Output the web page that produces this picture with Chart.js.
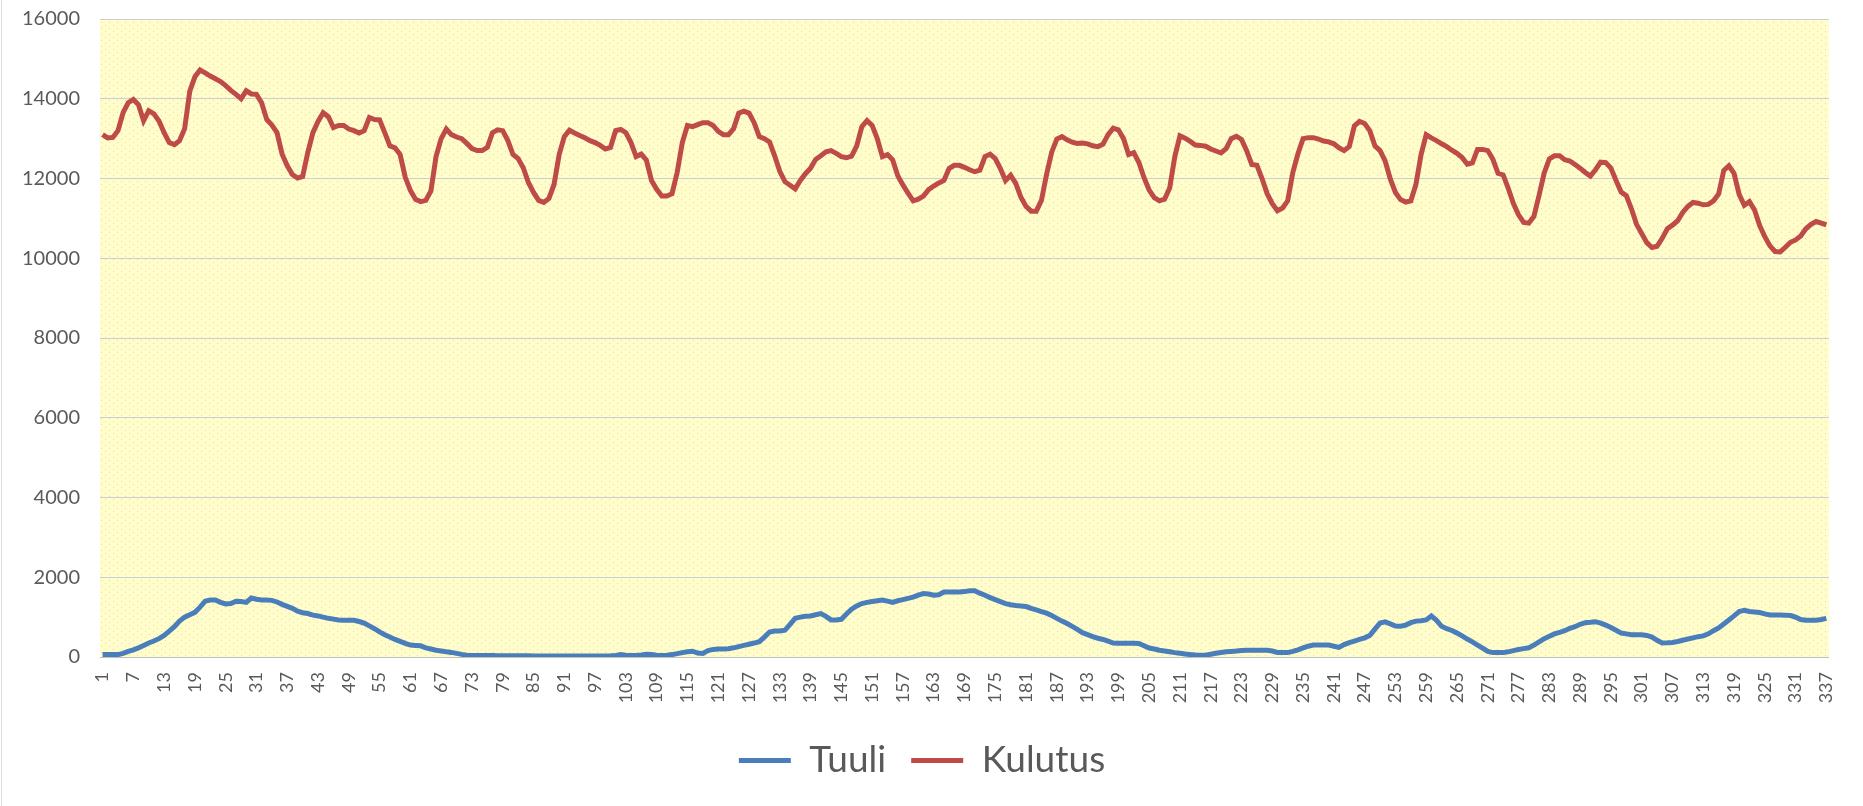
<!DOCTYPE html>
<html lang="fi">
<head>
  <meta charset="UTF-8">
  <title>Tuuli ja Kulutus</title>
  <style>
    html, body { margin: 0; padding: 0; background: #ffffff; }
    #chartBox { width: 1863px; height: 806px; }
  </style>
</head>
<body>
<div id="chartBox">
  <canvas id="windChart" width="1863" height="806"></canvas>
</div>

<script src="https://cdn.jsdelivr.net/npm/chart.js@4.4.1/dist/chart.umd.min.js"></script>
<script>
  // hours 1..337, every 6th one gets a label
  const hours = Array.from({ length: 337 }, (_, i) => String(i + 1));
  const labelEvery = 6;
  const yTicks = [0, 2000, 4000, 6000, 8000, 10000, 12000, 14000, 16000];

  const tuuli = [
    60, 60, 60, 60, 90, 140, 180, 230, 290, 350,
    400, 460, 540, 650, 760, 900, 1000, 1060, 1120, 1250,
    1400, 1430, 1430, 1370, 1330, 1340, 1400, 1390, 1370, 1480,
    1450, 1430, 1430, 1420, 1380, 1320, 1270, 1220, 1150, 1110,
    1090, 1050, 1030, 1000, 970, 950, 930, 920, 920, 920,
    890, 850, 780, 710, 630, 560, 500, 440, 390, 340,
    300, 290, 280, 230, 200, 170, 150, 130, 115, 90,
    65, 45, 40, 35, 35, 35, 35, 30, 30, 30,
    30, 30, 30, 30, 25, 25, 25, 25, 25, 25,
    25, 25, 25, 25, 25, 25, 25, 25, 25, 30,
    40, 60, 45, 40, 40, 50, 70, 60, 45, 40,
    45, 60, 85, 110, 130, 145, 100, 90, 160, 190,
    200, 200, 205, 230, 260, 290, 320, 350, 385, 500,
    625, 650, 650, 670, 820, 970, 1000, 1020, 1030, 1060,
    1090, 1020, 930, 930, 945, 1080, 1200, 1280, 1340, 1370,
    1390, 1410, 1430, 1400, 1370, 1410, 1440, 1470, 1500, 1550,
    1590, 1580, 1550, 1560, 1630, 1630, 1630, 1630, 1640, 1660,
    1660, 1600, 1550, 1490, 1440, 1390, 1340, 1310, 1290, 1280,
    1265, 1220, 1180, 1140, 1100, 1040, 970, 900, 840, 770,
    690, 610, 560, 510, 470, 440, 400, 350, 345, 345,
    345, 345, 340, 280, 225, 200, 170, 150, 130, 110,
    95, 75, 60, 50, 45, 45, 70, 95, 115, 130,
    140, 150, 165, 170, 170, 170, 170, 170, 150, 115,
    110, 110, 140, 180, 230, 270, 300, 300, 300, 300,
    270, 240, 310, 360, 400, 440, 480, 540, 700, 850,
    880, 830, 775, 770, 800, 860, 900, 910, 930, 1030,
    920, 770, 710, 665, 600, 530, 450, 380, 300, 220,
    140, 110, 110, 110, 130, 160, 190, 210, 230, 300,
    380, 460, 520, 580, 620, 660, 720, 760, 820, 860,
    870, 885, 850, 800, 740, 670, 600, 580, 560, 560,
    560, 540, 500, 420, 350, 355, 365, 390, 420, 450,
    480, 510, 530, 580, 660, 730, 830, 930, 1030, 1140,
    1170, 1140, 1130, 1115, 1080, 1055, 1055, 1055, 1050, 1040,
    1000, 940, 920, 920, 920, 940, 970
  ];

  const kulutus = [
    13100, 13020, 13030, 13200, 13650, 13900, 13980, 13850, 13450, 13700,
    13620, 13440, 13150, 12900, 12850, 12950, 13250, 14190, 14550, 14720,
    14650, 14570, 14500, 14430, 14330, 14210, 14110, 14000, 14200, 14120,
    14110, 13900, 13480, 13340, 13150, 12610, 12320, 12100, 12010, 12050,
    12650, 13150, 13430, 13650, 13550, 13280, 13330, 13330, 13240, 13200,
    13140, 13200, 13530, 13480, 13470, 13150, 12820, 12770, 12600, 12030,
    11700, 11480, 11420, 11450, 11690, 12550, 13000, 13240, 13100, 13040,
    13000, 12880, 12750, 12700, 12700, 12780, 13150, 13220, 13200, 12950,
    12600, 12500, 12270, 11900, 11650, 11450, 11400, 11500, 11850, 12600,
    13050, 13210, 13140, 13080, 13020, 12950, 12900, 12830, 12740, 12780,
    13200, 13230, 13150, 12900, 12550, 12610, 12460, 11950, 11730, 11560,
    11560, 11620, 12150, 12900, 13330, 13300, 13350, 13400, 13400, 13330,
    13180, 13100, 13100, 13250, 13640, 13690, 13640, 13400, 13050, 13000,
    12920, 12570, 12180, 11920, 11830, 11740, 11950, 12120, 12260, 12480,
    12570, 12670, 12700, 12630, 12550, 12520, 12560, 12820, 13300, 13450,
    13330, 13000, 12550, 12600, 12470, 12070, 11840, 11630, 11440, 11480,
    11560, 11720, 11810, 11890, 11950, 12250, 12330, 12330, 12280, 12220,
    12170, 12210, 12550, 12610, 12500, 12250, 11950, 12080, 11880, 11530,
    11300, 11180, 11180, 11450, 12100, 12660, 12990, 13050, 12970, 12910,
    12880, 12890, 12870, 12820, 12800, 12860, 13100, 13260, 13220, 13000,
    12600, 12650, 12400, 12020, 11710, 11520, 11440, 11480, 11760, 12550,
    13070, 13010, 12930, 12840, 12830, 12810, 12740, 12690, 12640, 12750,
    13000, 13060, 12980, 12700, 12350, 12330, 12000, 11620, 11370, 11190,
    11260, 11440, 12150, 12620, 13000, 13025, 13025, 12990, 12940, 12920,
    12870, 12770, 12700, 12800, 13320, 13430, 13380, 13200, 12820, 12700,
    12440, 11990, 11650, 11470, 11410, 11440, 11850, 12600, 13100, 13020,
    12950, 12870, 12800, 12710, 12630, 12525, 12360, 12390, 12730, 12730,
    12700, 12480, 12130, 12090, 11750, 11370, 11090, 10900, 10880, 11050,
    11580, 12140, 12490, 12570, 12570, 12470, 12440, 12350, 12260, 12150,
    12060, 12220, 12410, 12400, 12260, 11950, 11660, 11570, 11240, 10850,
    10620, 10390, 10270, 10300, 10500, 10740, 10830, 10940, 11150, 11300,
    11400, 11380, 11340, 11350, 11440, 11610, 12200, 12320, 12130, 11600,
    11330, 11420, 11210, 10820, 10540, 10310, 10170, 10160, 10275, 10400,
    10460, 10560, 10740, 10850, 10920, 10880, 10840
  ];

  // yellow dotted plot area like the excel fill
  function makeDots() {
    const tile = document.createElement('canvas');
    tile.width = 8;
    tile.height = 6;
    const t = tile.getContext('2d');
    t.fillStyle = '#fffecb';
    t.fillRect(0, 0, 8, 6);
    t.fillStyle = 'rgba(236,176,160,0.55)';
    t.fillRect(1, 1, 1, 1);
    t.fillRect(5, 4, 1, 1);
    return tile;
  }

  const plotBackground = {
    id: 'plotBackground',
    beforeDraw(chart) {
      const { ctx, chartArea: a } = chart;
      ctx.save();
      ctx.fillStyle = '#ffffff';
      ctx.fillRect(0, 0, chart.width, chart.height);
      ctx.fillStyle = ctx.createPattern(makeDots(), 'repeat');
      ctx.fillRect(a.left, a.top, a.right - a.left, a.bottom - a.top);
      ctx.strokeStyle = '#dde2ea';
      ctx.lineWidth = 1;
      ctx.beginPath();
      ctx.moveTo(1.5, 0);
      ctx.lineTo(1.5, chart.height);
      ctx.stroke();
      ctx.restore();
    }
  };

  const ctx = document.getElementById('windChart').getContext('2d');
  new Chart(ctx, {
    type: 'line',
    data: {
      labels: hours,
      datasets: [
        {
          label: 'Tuuli',
          data: tuuli,
          borderColor: '#4a7ebb',
          backgroundColor: '#4a7ebb',
          borderWidth: 5,
          pointRadius: 0,
          tension: 0
        },
        {
          label: 'Kulutus',
          data: kulutus,
          borderColor: '#be4b48',
          backgroundColor: '#be4b48',
          borderWidth: 5,
          pointRadius: 0,
          tension: 0
        }
      ]
    },
    options: {
      responsive: false,
      animation: false,
      layout: { padding: { top: 19, right: 19, bottom: 17, left: 0 } },
      plugins: {
        tooltip: { enabled: false },
        legend: {
          position: 'bottom',
          labels: {
            usePointStyle: true,
            pointStyle: 'line',
            pointStyleWidth: 52,
            padding: 25,
            color: '#595959',
            font: { family: 'Lato', size: 37 }
          }
        }
      },
      scales: {
        x: {
          offset: true,
          grid: { display: false, drawTicks: false },
          border: { display: true, color: '#bfbfbf', width: 1 },
          afterFit(scale) { scale.height = 60; },
          ticks: {
            autoSkip: false,
            maxRotation: 90,
            minRotation: 90,
            padding: 15,
            color: '#595959',
            font: { family: 'Lato', size: 18 },
            callback(value, index) {
              return index % labelEvery === 0 ? hours[index] : null;
            }
          }
        },
        y: {
          min: yTicks[0],
          max: yTicks[yTicks.length - 1],
          afterFit(scale) { scale.width = 100; },
          afterBuildTicks(scale) { scale.ticks = yTicks.map(v => ({ value: v })); },
          // invisible tick marks keep the labels away from the plot
          grid: { color: '#c9cdd8', lineWidth: 1, drawTicks: true, tickLength: 16, tickColor: 'rgba(0,0,0,0)' },
          border: { display: false },
          ticks: {
            padding: 4,
            color: '#595959',
            font: { family: 'Lato', size: 20 },
            callback: value => String(value)
          }
        }
      }
    },
    plugins: [plotBackground]
  });
</script>
</body>
</html>
